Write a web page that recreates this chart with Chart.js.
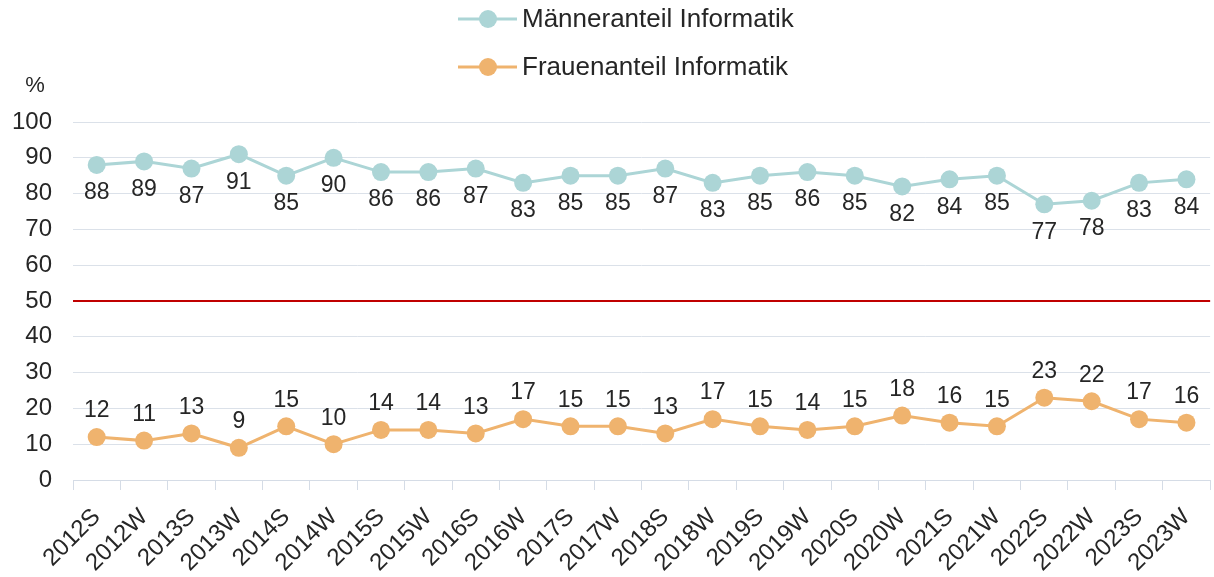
<!DOCTYPE html>
<html>
<head>
<meta charset="utf-8">
<script src="https://cdn.jsdelivr.net/npm/chart.js@4/dist/chart.umd.min.js"></script>
<style>
    html, body { margin: 0; padding: 0; background: #fff; overflow: hidden; }
</style>
</head>
<body>
<canvas id="shareChart" width="1220" height="577"></canvas>
<script>
const semesters = [
    "2012S", "2012W", "2013S", "2013W", "2014S", "2014W", "2015S", "2015W",
    "2016S", "2016W", "2017S", "2017W", "2018S", "2018W", "2019S", "2019W",
    "2020S", "2020W", "2021S", "2021W", "2022S", "2022W", "2023S", "2023W"
];
const maleShare = [88, 89, 87, 91, 85, 90, 86, 86, 87, 83, 85, 85, 87, 83, 85, 86, 85, 82, 84, 85, 77, 78, 83, 84];
const femaleShare = [12, 11, 13, 9, 15, 10, 14, 14, 13, 17, 15, 15, 13, 17, 15, 14, 15, 18, 16, 15, 23, 22, 17, 16];
const parityLine = 50;

const FONT = "'Liberation Sans', Arial, sans-serif";
const TEXT_COLOR = "#262626";
const MALE_COLOR = "#acd5d6";
const FEMALE_COLOR = "#efb36e";

// value labels: men below the marker, women above it
const valueLabels = {
    id: "valueLabels",
    afterDatasetsDraw(chart) {
        const ctx = chart.ctx;
        ctx.save();
        ctx.font = "23px " + FONT;
        ctx.fillStyle = TEXT_COLOR;
        ctx.textAlign = "center";
        ctx.textBaseline = "middle";
        chart.data.datasets.forEach((ds, i) => {
            const meta = chart.getDatasetMeta(i);
            meta.data.forEach((pt, j) => {
                ctx.fillText(String(ds.data[j]), pt.x, pt.y + ds.labelOffset);
            });
        });
        ctx.restore();
    }
};

// red 50 % line across the plot
const parity = {
    id: "parity",
    beforeDatasetsDraw(chart) {
        const { ctx, chartArea, scales } = chart;
        const y = scales.y.getPixelForValue(parityLine);
        ctx.save();
        ctx.strokeStyle = "#c00000";
        ctx.lineWidth = 2;
        ctx.beginPath();
        ctx.moveTo(chartArea.left, y);
        ctx.lineTo(chartArea.right, y);
        ctx.stroke();
        ctx.restore();
    }
};

// stacked legend at the top plus the unit label
const stackedLegend = {
    id: "stackedLegend",
    afterDraw(chart) {
        const { ctx, chartArea } = chart;
        ctx.save();
        ctx.font = "26px " + FONT;
        ctx.textBaseline = "middle";
        chart.data.datasets.forEach((ds, i) => {
            const y = 19 + i * 48;
            ctx.strokeStyle = ds.borderColor;
            ctx.lineWidth = 3;
            ctx.beginPath();
            ctx.moveTo(458, y);
            ctx.lineTo(517, y);
            ctx.stroke();
            ctx.fillStyle = ds.backgroundColor;
            ctx.beginPath();
            ctx.arc(488, y, 9, 0, Math.PI * 2);
            ctx.fill();
            ctx.fillStyle = TEXT_COLOR;
            ctx.textAlign = "left";
            ctx.fillText(ds.label, 522, y + 1);
        });
        ctx.font = "22px " + FONT;
        ctx.textAlign = "center";
        ctx.fillText("%", chartArea.left - 38, chartArea.top - 36);
        ctx.restore();
    }
};

new Chart(document.getElementById("shareChart"), {
    type: "line",
    data: {
        labels: semesters,
        datasets: [
            {
                label: "Männeranteil Informatik",
                data: maleShare,
                borderColor: MALE_COLOR,
                backgroundColor: MALE_COLOR,
                pointBackgroundColor: MALE_COLOR,
                borderWidth: 3,
                pointRadius: 9,
                pointBorderWidth: 0,
                lineTension: 0,
                labelOffset: 28
            },
            {
                label: "Frauenanteil Informatik",
                data: femaleShare,
                borderColor: FEMALE_COLOR,
                backgroundColor: FEMALE_COLOR,
                pointBackgroundColor: FEMALE_COLOR,
                borderWidth: 3,
                pointRadius: 9,
                pointBorderWidth: 0,
                lineTension: 0,
                labelOffset: -26
            }
        ]
    },
    options: {
        responsive: false,
        animation: false,
        events: [],
        layout: {
            padding: { top: 122, right: 2, left: 0, bottom: 0 }
        },
        plugins: {
            legend: { display: false },
            tooltip: { enabled: false }
        },
        scales: {
            x: {
                offset: true,
                afterFit(scale) { scale.height = 97; },
                grid: {
                    drawOnChartArea: false,
                    drawTicks: true,
                    tickLength: 10,
                    color: "#d5dce6",
                    offset: true
                },
                border: { color: "#d5dce6", width: 1 },
                ticks: {
                    color: TEXT_COLOR,
                    font: { family: FONT, size: 24 },
                    minRotation: 45,
                    maxRotation: 45,
                    autoSkip: false,
                    padding: 13
                }
            },
            y: {
                min: 0,
                max: 100,
                afterFit(scale) { scale.width = 73; },
                grid: {
                    drawTicks: false,
                    color: "#dbe1e9",
                    lineWidth: 1
                },
                border: { display: false },
                ticks: {
                    stepSize: 10,
                    color: TEXT_COLOR,
                    font: { family: FONT, size: 24 },
                    padding: 21
                }
            }
        }
    },
    plugins: [parity, valueLabels, stackedLegend]
});
</script>
</body>
</html>
